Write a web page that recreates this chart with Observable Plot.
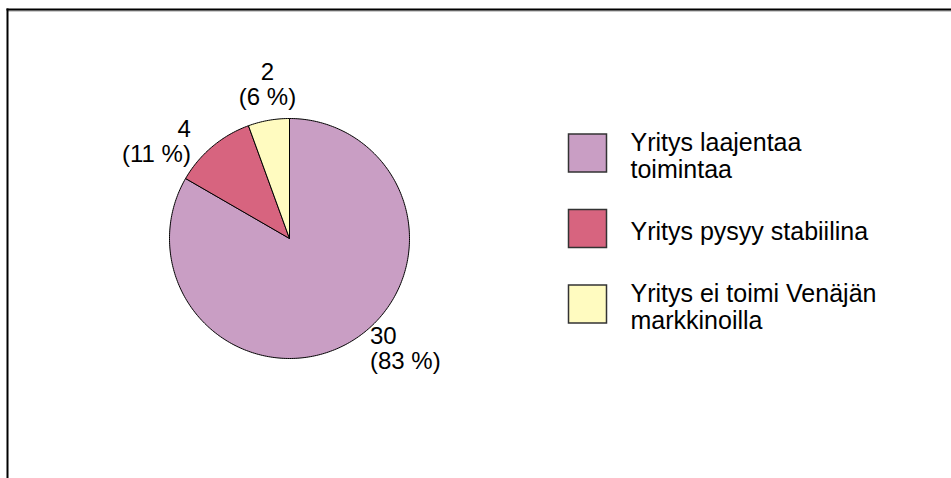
<!DOCTYPE html>
<html>
<head>
<meta charset="utf-8">
<script src="https://cdn.jsdelivr.net/npm/d3@7"></script>
<script src="https://cdn.jsdelivr.net/npm/@observablehq/plot@0.6"></script>
<style>
  html, body { margin: 0; padding: 0; background: #ffffff; }
</style>
</head>
<body>
<div id="chart"></div>
<script>
// ---- data ----
const categories = [
  "Yritys laajentaa toimintaa",
  "Yritys pysyy stabiilina",
  "Yritys ei toimi Venäjän markkinoilla"
];
const legendLabels = [
  "Yritys laajentaa\ntoimintaa",
  "Yritys pysyy stabiilina",
  "Yritys ei toimi Venäjän\nmarkkinoilla"
];
const values = [30, 4, 2];
const percentLabels = ["83 %", "11 %", "6 %"];
const colors = ["#C99EC4", "#D7647F", "#FFFBC0"];

// ---- layout ----
const W = 951, H = 478;
const mTop = 9, mLeft = 7;
const cx = 289, cy = 238, R = 120;
const labelRadius = 1.058;   // in pie units
const sideGap = 17, vertGap = 8;
const labelFont = 24, legendFont = 25;
const legendSwatchX = 587, legendY0 = 152.5, legendStep = 75.5, legendTextX = 630;

// ---- pie geometry from data ----
const rows = categories.map((c, i) => ({category: c, value: values[i], pct: percentLabels[i]}));
const slices = d3.pie().sort(null).value(d => d.value)(rows);

const piePoints = slices.flatMap(s => {
  const n = Math.max(2, Math.ceil((s.endAngle - s.startAngle) / (Math.PI / 180)));
  const pts = [{category: s.data.category, x: 0, y: 0}];
  for (let k = 0; k <= n; k++) {
    const a = s.startAngle + (s.endAngle - s.startAngle) * k / n;
    pts.push({category: s.data.category, x: Math.sin(a), y: Math.cos(a)});
  }
  pts.push({category: s.data.category, x: 0, y: 0});
  return pts;
});

const labelMarks = slices.map(s => {
  const m = (s.startAngle + s.endAngle) / 2;
  const sx = Math.sin(m), cyy = Math.cos(m);
  const side = Math.abs(sx) > 0.3;
  return Plot.text([s], {
    x: () => labelRadius * sx,
    y: () => labelRadius * cyy,
    text: d => `${d.data.value}\n(${d.data.pct})`,
    textAnchor: side ? (sx < 0 ? "end" : "start") : "middle",
    lineAnchor: side ? "middle" : (cyy > 0 ? "bottom" : "top"),
    dx: side ? Math.sign(sx) * sideGap : 0,
    dy: side ? 0 : (cyy > 0 ? -vertGap : vertGap),
    fontSize: labelFont,
    lineHeight: 1.05,
    fill: "black"
  });
});

const legendMarks = categories.flatMap((c, i) => [
  Plot.dot([c], {
    frameAnchor: "top-left",
    dx: legendSwatchX - mLeft,
    dy: legendY0 + i * legendStep - mTop,
    symbol: "square",
    r: 38 / Math.sqrt(Math.PI),
    fill: d => d,
    stroke: "#333",
    strokeWidth: 1.5
  }),
  Plot.text([legendLabels[i]], {
    frameAnchor: "top-left",
    dx: legendTextX - mLeft,
    dy: legendY0 + i * legendStep - mTop + 3,
    text: d => d,
    textAnchor: "start",
    lineAnchor: "middle",
    fontSize: legendFont,
    lineHeight: 1.05,
    fill: "black"
  })
]);

const chart = Plot.plot({
  width: W,
  height: H,
  marginTop: mTop,
  marginLeft: mLeft,
  marginRight: 0,
  marginBottom: 0,
  style: {fontFamily: "'Liberation Sans', Arial, sans-serif", background: "#ffffff"},
  x: {domain: [-1, 1], range: [cx - R, cx + R], axis: null},
  y: {domain: [-1, 1], range: [cy + R, cy - R], axis: null},
  color: {domain: categories, range: colors},
  marks: [
    Plot.frame({anchor: "top", stroke: "#999", strokeWidth: 1, dy: 1.5}),
    Plot.frame({anchor: "top", stroke: "black", strokeWidth: 2}),
    Plot.frame({anchor: "left", stroke: "black", strokeWidth: 2}),
    Plot.line(piePoints, {
      x: "x", y: "y", z: "category",
      fill: "category",
      stroke: "black", strokeWidth: 1,
      strokeLinejoin: "miter"
    }),
    ...labelMarks,
    ...legendMarks
  ]
});
document.getElementById("chart").appendChild(chart);
</script>
</body>
</html>
